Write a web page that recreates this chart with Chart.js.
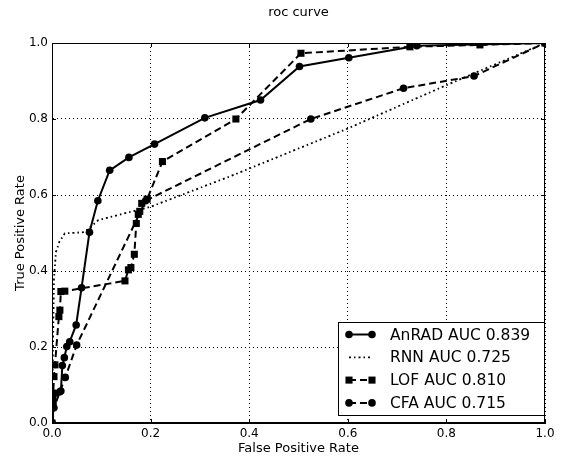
<!DOCTYPE html>
<html>
<head>
<meta charset="utf-8">
<script src="https://cdn.jsdelivr.net/npm/chart.js@4"></script>
<style>
  body { margin: 0; background: #fff; }
  #wrap { width: 568px; height: 459px; }
</style>
</head>
<body>
<div id="wrap"><canvas></canvas></div>
<script>
// values
const ticks = [0, 0.2, 0.4, 0.6, 0.8, 1.0];
const names = ["AnRAD AUC 0.839", "RNN AUC 0.725", "LOF AUC 0.810", "CFA AUC 0.715"];

const anradFpr = [0, 0.002, 0.006, 0.018, 0.021, 0.025, 0.030, 0.036, 0.049, 0.060, 0.076, 0.093, 0.117, 0.156, 0.208, 0.310, 0.423, 0.502, 0.602, 0.740, 1.0];
const anradTpr = [0, 0.050, 0.078, 0.084, 0.151, 0.172, 0.201, 0.214, 0.258, 0.356, 0.502, 0.585, 0.665, 0.699, 0.734, 0.803, 0.850, 0.938, 0.961, 0.993, 1.0];

const rnnFpr = [0, 0.002, 0.004, 0.008, 0.015, 0.026, 0.063, 0.074, 0.094, 0.200, 0.361, 0.598, 0.800, 1.0];
const rnnTpr = [0, 0.200, 0.380, 0.450, 0.477, 0.499, 0.502, 0.511, 0.534, 0.569, 0.649, 0.774, 0.889, 1.0];

const lofFpr = [0, 0.002, 0.004, 0.006, 0.014, 0.016, 0.018, 0.026, 0.148, 0.155, 0.160, 0.167, 0.171, 0.175, 0.178, 0.182, 0.193, 0.224, 0.373, 0.505, 0.726, 0.868, 1.0];
const lofTpr = [0, 0.060, 0.122, 0.153, 0.280, 0.297, 0.346, 0.347, 0.374, 0.403, 0.409, 0.444, 0.525, 0.549, 0.557, 0.578, 0.589, 0.688, 0.800, 0.973, 0.990, 0.995, 1.0];

const cfaFpr = [0, 0.004, 0.016, 0.027, 0.050, 0.190, 0.525, 0.713, 0.856, 1.0];
const cfaTpr = [0, 0.040, 0.082, 0.120, 0.205, 0.585, 0.800, 0.881, 0.913, 1.0];

const pts = (xs, ys) => xs.map((x, i) => ({ x: x, y: ys[i] }));

Chart.defaults.font.family = "'DejaVu Sans', sans-serif";
Chart.defaults.color = "#000";

const frame = {
    id: "frame",
    afterDatasetsDraw(chart) {
        const { ctx, chartArea: a, scales } = chart;
        ctx.save();
        ctx.strokeStyle = "#000";
        ctx.lineWidth = 1;
        ctx.setLineDash([]);
        ctx.strokeRect(a.left + 0.5, a.top + 0.5, a.right - a.left - 1, a.bottom - a.top - 1);
        ctx.beginPath();
        ticks.forEach(t => {
            const x = Math.round(scales.x.getPixelForValue(t)) + 0.5;
            const y = Math.round(scales.y.getPixelForValue(t)) + 0.5;
            ctx.moveTo(x, a.bottom); ctx.lineTo(x, a.bottom - 4);
            ctx.moveTo(x, a.top); ctx.lineTo(x, a.top + 4);
            ctx.moveTo(a.left, y); ctx.lineTo(a.left + 4, y);
            ctx.moveTo(a.right, y); ctx.lineTo(a.right - 4, y);
        });
        ctx.stroke();

        // title
        ctx.font = "13px 'DejaVu Sans'";
        ctx.fillStyle = "#000";
        ctx.textAlign = "center";
        ctx.textBaseline = "middle";
        ctx.fillText("roc curve", (a.left + a.right) / 2, 13);

        // legend in lower right corner
        const bx = 338, by = 322, bw = 206, bh = 93;
        ctx.fillStyle = "#fff";
        ctx.fillRect(bx, by, bw, bh);
        ctx.strokeRect(bx + 0.5, by + 0.5, bw, bh);
        ctx.font = "15.5px 'DejaVu Sans'";
        ctx.textAlign = "left";
        chart.data.datasets.forEach((ds, i) => {
            const y = by + 12.5 + i * 22.8;
            ctx.save();
            ctx.strokeStyle = "#000";
            ctx.lineWidth = ds.borderWidth;
            ctx.setLineDash(ds.borderDash || []);
            ctx.beginPath();
            ctx.moveTo(349, y); ctx.lineTo(373, y);
            ctx.stroke();
            ctx.restore();
            if (ds.pointRadius > 0) {
                ctx.fillStyle = "#000";
                [349, 372].forEach(px => Chart.helpers.drawPoint(ctx, {
                    pointStyle: ds.pointStyle, radius: ds.pointRadius, borderWidth: 0
                }, px, y));
            }
            ctx.fillStyle = "#000";
            ctx.fillText(ds.label, 390, y + 1);
        });
        ctx.restore();
    }
};

const series = [
    { label: names[0], data: pts(anradFpr, anradTpr), borderDash: [], pointStyle: "circle", pointRadius: 3.8, borderWidth: 2 },
    { label: names[1], data: pts(rnnFpr, rnnTpr), borderDash: [2, 3, 1.5, 3], pointStyle: "circle", pointRadius: 0, borderWidth: 1.8 },
    { label: names[2], data: pts(lofFpr, lofTpr), borderDash: [7, 4], pointStyle: "rect", pointRadius: 5, borderWidth: 2 },
    { label: names[3], data: pts(cfaFpr, cfaTpr), borderDash: [7, 4], pointStyle: "circle", pointRadius: 3.8, borderWidth: 2 }
].map(s => Object.assign(s, {
    showLine: true,
    tension: 0,
    borderColor: "#000",
    backgroundColor: "#000",
    pointBorderWidth: 0,
    pointHoverRadius: 0
}));

function axis(title, isX) {
    return {
        type: "linear",
        min: 0,
        max: 1,
        afterBuildTicks: s => { s.ticks = ticks.map(v => ({ value: v })); },
        afterFit: s => { if (isX) s.height = 36; else s.width = 52; },
        ticks: {
            font: { size: 12 },
            padding: 4,
            callback: v => v.toFixed(1),
            maxRotation: 0
        },
        grid: { color: "#000", lineWidth: 1, drawTicks: false },
        border: { color: "#000", width: 1, dash: [1, 3] },
        title: {
            display: true,
            text: title,
            font: { size: 13 },
            padding: isX ? { top: 0, bottom: 3 } : { top: 13, bottom: 0 }
        }
    };
}

new Chart(document.querySelector("canvas"), {
    type: "scatter",
    data: { datasets: series },
    options: {
        responsive: true,
        maintainAspectRatio: false,
        animation: false,
        layout: { padding: { top: 43, right: 23, left: 0, bottom: 0 } },
        plugins: { legend: { display: false }, tooltip: { enabled: false } },
        scales: { x: axis("False Positive Rate", true), y: axis("True Positive Rate", false) }
    },
    plugins: [frame]
});
</script>
</body>
</html>
